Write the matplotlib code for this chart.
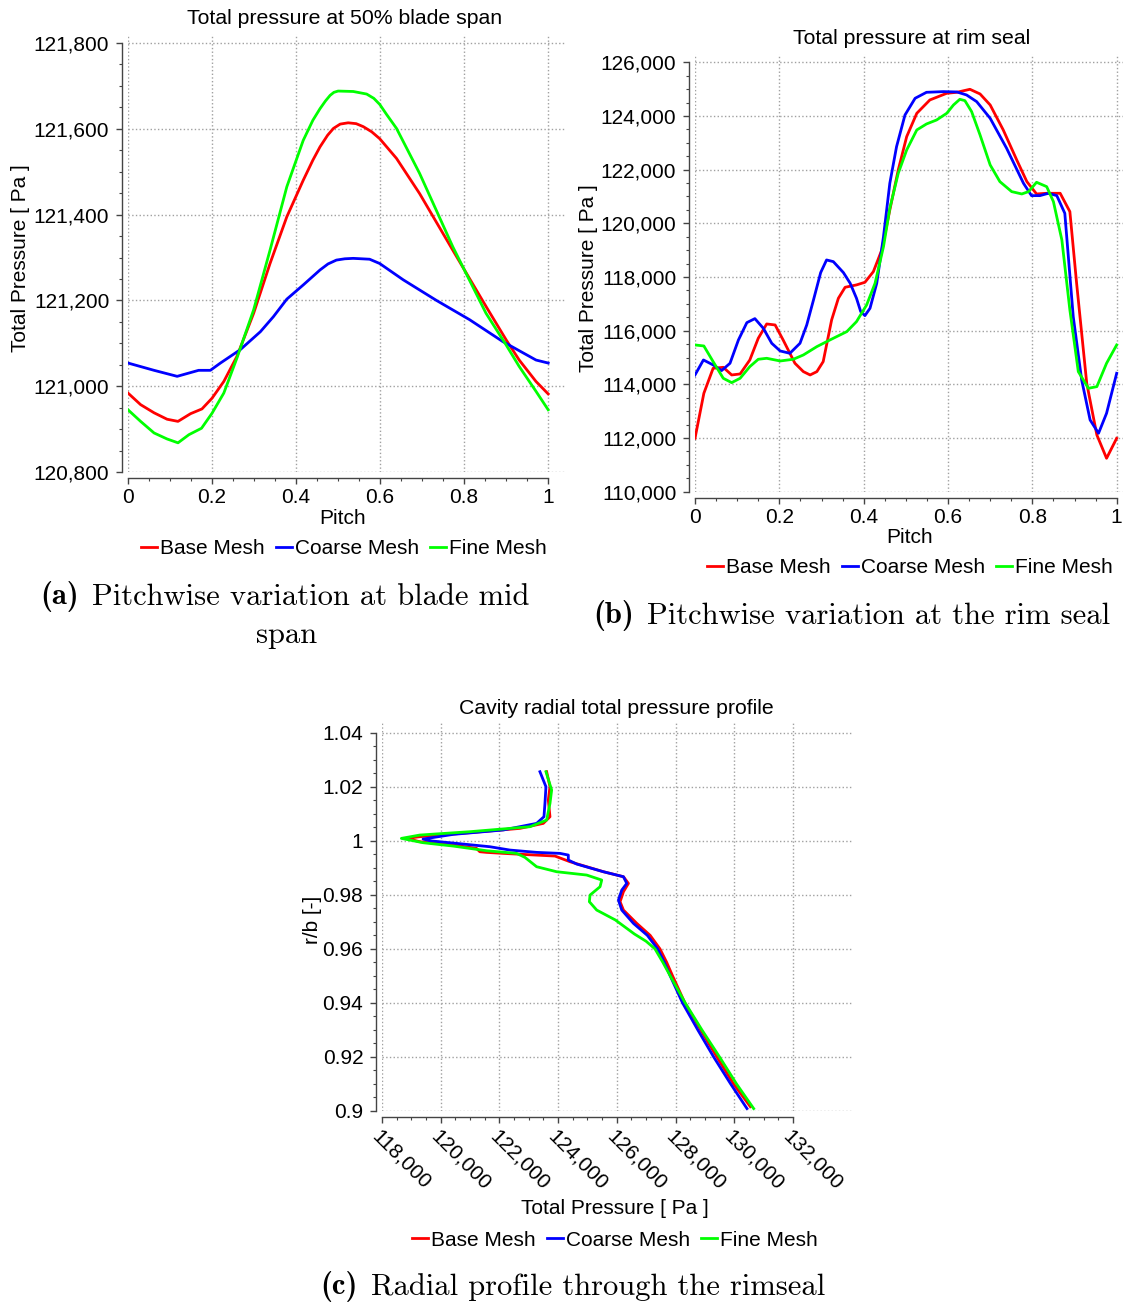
import matplotlib
matplotlib.use("Agg")
import matplotlib.pyplot as plt
import numpy as np
from matplotlib.lines import Line2D
from matplotlib.ticker import FuncFormatter

plt.rcParams['font.family'] = ['Liberation Sans', 'DejaVu Sans']

W, H = 1124, 1304
RED, BLUE, GREEN = '#ff0000', '#0000ff', '#00ff00'
names = ['Base Mesh', 'Coarse Mesh', 'Fine Mesh']

# (a) total pressure at 50% span
a_base_x = [0, 0.030, 0.062, 0.093, 0.119, 0.149, 0.176, 0.2, 0.228, 0.259, 0.299, 0.338, 0.378,
            0.417, 0.44, 0.457, 0.475, 0.489, 0.505, 0.524, 0.543, 0.560, 0.58, 0.599, 0.639, 0.694,
            0.773, 0.852, 0.9, 0.931, 0.971, 1.0]
a_base_y = [120984, 120957, 120938, 120923, 120918, 120936, 120947, 120972, 121011, 121069, 121170,
            121286, 121395, 121480, 121527, 121558, 121585, 121601, 121611, 121614, 121612, 121605,
            121593, 121577, 121531, 121449, 121317, 121186, 121108, 121061, 121011, 120982]
a_coarse_x = [0, 0.062, 0.117, 0.168, 0.196, 0.22, 0.267, 0.315, 0.346, 0.378, 0.417, 0.457, 0.476,
              0.496, 0.516, 0.536, 0.556, 0.575, 0.599, 0.655, 0.734, 0.813, 0.892, 0.971, 1.0]
a_coarse_y = [121054, 121037, 121023, 121037, 121037, 121054, 121085, 121127, 121162, 121203, 121236,
              121271, 121285, 121294, 121297, 121298, 121297, 121296, 121286, 121248, 121200, 121155,
              121104, 121061, 121054]
a_fine_x = [0, 0.030, 0.062, 0.093, 0.119, 0.145, 0.175, 0.2, 0.228, 0.259, 0.299, 0.338, 0.378,
            0.417, 0.44, 0.457, 0.47, 0.481, 0.49, 0.5, 0.536, 0.568, 0.585, 0.599, 0.615, 0.639,
            0.694, 0.773, 0.852, 0.9, 0.931, 0.971, 1.0]
a_fine_y = [120945, 120918, 120891, 120877, 120868, 120887, 120902, 120937, 120984, 121065, 121178,
            121317, 121465, 121573, 121620, 121647, 121665, 121678, 121685, 121688, 121687, 121681,
            121671, 121657, 121634, 121601, 121496, 121325, 121170, 121096, 121046, 120988, 120945]

# (b) total pressure at rim seal
b_base_x = [0, 0.021, 0.043, 0.067, 0.087, 0.107, 0.130, 0.150, 0.170, 0.190, 0.209, 0.237, 0.257,
            0.273, 0.289, 0.304, 0.324, 0.34, 0.356, 0.383, 0.403, 0.423, 0.443, 0.462, 0.482, 0.502,
            0.526, 0.557, 0.597, 0.621, 0.652, 0.676, 0.7, 0.731, 0.763, 0.787, 0.81, 0.834, 0.866,
            0.889, 0.905, 0.929, 0.953, 0.976, 1.0]
b_base_y = [111990, 113667, 114598, 114635, 114350, 114387, 114909, 115716, 116250, 116213, 115654,
            114785, 114474, 114350, 114474, 114847, 116399, 117207, 117617, 117705, 117803, 118200,
            119008, 120498, 121988, 123230, 124100, 124597, 124845, 124882, 124994, 124820, 124410,
            123479, 122361, 121554, 121094, 121119, 121119, 120436, 117766, 114040, 112115, 111245,
            111990]
b_coarse_x = [0, 0.020, 0.043, 0.063, 0.083, 0.103, 0.123, 0.142, 0.162, 0.182, 0.202, 0.225, 0.249,
              0.265, 0.281, 0.298, 0.312, 0.328, 0.352, 0.368, 0.383, 0.393, 0.403, 0.415, 0.431,
              0.447, 0.462, 0.478, 0.498, 0.522, 0.549, 0.589, 0.621, 0.644, 0.668, 0.7, 0.739,
              0.779, 0.798, 0.818, 0.838, 0.858, 0.877, 0.897, 0.917, 0.937, 0.957, 0.976, 1.0]
b_coarse_y = [114350, 114909, 114723, 114512, 114785, 115654, 116300, 116449, 116089, 115530, 115244,
              115157, 115530, 116213, 117145, 118163, 118635, 118573, 118163, 117766, 117207, 116710,
              116561, 116834, 117766, 119504, 121492, 122858, 124038, 124659, 124882, 124907, 124895,
              124783, 124534, 123913, 122796, 121492, 121032, 121032, 121119, 121032, 120374, 116523,
              114163, 112673, 112177, 112922, 114412]
b_fine_x = [0, 0.021, 0.043, 0.067, 0.087, 0.107, 0.130, 0.150, 0.170, 0.202, 0.233, 0.257, 0.289,
            0.320, 0.360, 0.383, 0.407, 0.427, 0.447, 0.462, 0.482, 0.502, 0.526, 0.549, 0.573, 0.597,
            0.613, 0.628, 0.64, 0.656, 0.676, 0.7, 0.723, 0.751, 0.775, 0.791, 0.81, 0.834, 0.85,
            0.87, 0.889, 0.909, 0.933, 0.953, 0.976, 1.0]
b_fine_y = [115468, 115430, 114847, 114226, 114064, 114226, 114660, 114934, 114971, 114871, 114934,
            115095, 115406, 115654, 115965, 116337, 116958, 117766, 119132, 120560, 121864, 122734,
            123479, 123702, 123851, 124100, 124410, 124621, 124572, 124162, 123292, 122175, 121554,
            121181, 121094, 121181, 121529, 121367, 120808, 119380, 116772, 114474, 113853, 113915,
            114785, 115468]

# (c) cavity radial profile
c_base_p = [123609, 123723, 123666, 123723, 123495, 122699, 120992, 119286, 118830, 119286, 120423,
            121220, 121333, 121561, 122130, 123893, 124405, 125543, 126226, 126396, 126226, 126112,
            126226, 126681, 127136, 127470, 127700, 127900, 128320, 128860, 129410, 129980, 130550]
c_base_r = [1.02556, 1.02, 1.01508, 1.00891, 1.00644, 1.00459, 1.0030, 1.00151, 1.00089, 0.99966,
            0.99842, 0.99719, 0.99595, 0.99571, 0.99534, 0.99435, 0.99225, 0.98855, 0.9867, 0.98423,
            0.98115, 0.97745, 0.97436, 0.96943, 0.965, 0.96, 0.955, 0.95, 0.94, 0.93, 0.92, 0.91,
            0.9016]
c_coarse_p = [123381, 123586, 123552, 123518, 123268, 122130, 120423, 119399, 119627, 120537, 121675,
              122357, 123268, 124064, 124348, 124348, 124633, 125543, 126226, 126339, 126169, 126055,
              126169, 126567, 127040, 127390, 127620, 127820, 128240, 128760, 129300, 129880, 130435]
c_coarse_r = [1.02556, 1.02, 1.01384, 1.00891, 1.00644, 1.0040, 1.00237, 1.00064, 1.0, 0.99904,
              0.99780, 0.99657, 0.99571, 0.99534, 0.99472, 0.99287, 0.99139, 0.98855, 0.9867, 0.98423,
              0.98176, 0.97806, 0.97436, 0.96943, 0.965, 0.96, 0.955, 0.95, 0.94, 0.93, 0.92, 0.91,
              0.9009]
c_fine_p = [123586, 123780, 123723, 123609, 123040, 120992, 119286, 118660, 119399, 120423, 121561,
            122585, 122870, 123268, 123950, 124974, 125486, 125429, 125088, 125065, 125315, 125950,
            126600, 127000, 127300, 127570, 127820, 128330, 128900, 129500, 130080, 130663]
c_fine_r = [1.02556, 1.01878, 1.01384, 1.00767, 1.00521, 1.00336, 1.00212, 1.00089, 0.99929, 0.99805,
            0.99632, 0.99534, 0.99386, 0.9904, 0.98855, 0.98732, 0.98547, 0.983, 0.97991, 0.97745,
            0.97436, 0.9707, 0.9655, 0.9628, 0.96, 0.955, 0.95, 0.94, 0.93, 0.92, 0.91, 0.9009]


def rect(x0, y0, x1, y1):
    return [x0 / W, 1 - y1 / H, (x1 - x0) / W, (y1 - y0) / H]


def fx(x, y):
    return x / W, 1 - y / H


comma = FuncFormatter(lambda v, p: f'{v:,.0f}')
short = FuncFormatter(lambda v, p: f'{round(v, 6):g}')


def ticks(lo, hi, step):
    n = int(round((hi - lo) / step))
    return lo + step * np.arange(n + 1)


def style(ax, xb, yb, xmaj, xmin, ymaj, ymin, xfmt, yfmt):
    for s in ['top', 'right']:
        ax.spines[s].set_visible(False)
    for s in ['left', 'bottom']:
        ax.spines[s].set_position(('outward', 4.5))
        ax.spines[s].set_color('#444444')
        ax.spines[s].set_linewidth(1.0)
    ax.spines['bottom'].set_bounds(*xb)
    ax.spines['left'].set_bounds(*yb)
    ax.set_xticks(ticks(*xb, xmaj))
    ax.set_xticks(ticks(*xb, xmin), minor=True)
    ax.set_yticks(ticks(*yb, ymaj))
    ax.set_yticks(ticks(*yb, ymin), minor=True)
    ax.xaxis.set_major_formatter(xfmt)
    ax.yaxis.set_major_formatter(yfmt)
    ax.tick_params(which='major', length=4, width=1.0, color='#444444', labelsize=15, pad=3)
    ax.tick_params(which='minor', length=2.5, width=0.8, color='#444444')
    ax.tick_params(axis='y', pad=5)
    ax.grid(True, which='major', linestyle=':', color='#a0a0a0', linewidth=1.0)
    ax.set_axisbelow(True)


def legend(xc, yc):
    hs = [Line2D([], [], color=c, lw=2) for c in (RED, BLUE, GREEN)]
    fig.legend(hs, names, loc='center', bbox_to_anchor=fx(xc, yc), ncol=3, frameon=False,
               fontsize=15, handlelength=0.75, handletextpad=0.15, columnspacing=0.55,
               borderaxespad=0, borderpad=0)


fig = plt.figure(figsize=(W / 100, H / 100), dpi=100)
lw = 2.0

# ---- (a)
ax = fig.add_axes(rect(128, 34, 565, 472))
ax.plot(a_base_x, a_base_y, color=RED, lw=lw)
ax.plot(a_coarse_x, a_coarse_y, color=BLUE, lw=lw)
ax.plot(a_fine_x, a_fine_y, color=GREEN, lw=lw)
ax.set_xlim(0, 1.04)
ax.set_ylim(120800, 121821)
style(ax, (0, 1), (120800, 121800), 0.2, 0.05, 200, 50, short, comma)
fig.text(*fx(345, 19), 'Total pressure at 50% blade span', fontsize=15.3, ha='center', va='center')
fig.text(*fx(343, 519), 'Pitch', fontsize=15, ha='center', va='center')
fig.text(*fx(21, 258), 'Total Pressure [ Pa ]', fontsize=15, ha='center', va='center', rotation=90)
legend(344, 549)

# ---- (b)
ax = fig.add_axes(rect(695, 54, 1123, 491.7))
ax.plot(b_base_x, b_base_y, color=RED, lw=lw)
ax.plot(b_coarse_x, b_coarse_y, color=BLUE, lw=lw)
ax.plot(b_fine_x, b_fine_y, color=GREEN, lw=lw)
ax.set_xlim(0, 1.015)
ax.set_ylim(110000, 126309)
style(ax, (0, 1), (110000, 126000), 0.2, 0.05, 2000, 500, short, comma)
fig.text(*fx(912, 39), 'Total pressure at rim seal', fontsize=15.3, ha='center', va='center')
fig.text(*fx(910, 538), 'Pitch', fontsize=15, ha='center', va='center')
fig.text(*fx(588, 278), 'Total Pressure [ Pa ]', fontsize=15, ha='center', va='center', rotation=90)
legend(910, 568)

# ---- (c)
ax = fig.add_axes(rect(382, 723.3, 852.7, 1111))
ax.plot(c_base_p, c_base_r, color=RED, lw=lw)
ax.plot(c_coarse_p, c_coarse_r, color=BLUE, lw=lw)
ax.plot(c_fine_p, c_fine_r, color=GREEN, lw=lw)
ax.set_xlim(118000, 134037)
ax.set_ylim(0.9, 1.04348)
style(ax, (118000, 132000), (0.9, 1.04), 2000, 500, 0.02, 0.005, comma, short)
for lab in ax.get_xticklabels():
    lab.set_rotation(-45)
    lab.set_ha('left')
    lab.set_va('top')
    lab.set_rotation_mode('anchor')
fig.text(*fx(616, 709), 'Cavity radial total pressure profile', fontsize=15.3, ha='center', va='center')
fig.text(*fx(615, 1209), 'Total Pressure [ Pa ]', fontsize=15, ha='center', va='center')
fig.text(*fx(312, 920), 'r/b [-]', fontsize=15, ha='center', va='center', rotation=90)
legend(615, 1240)

# ---- captions
cap = dict(fontsize=22, va='center', ha='left')
fig.text(*fx(40, 597), '(a)', family='cmb10', **cap)
fig.text(*fx(92, 597), 'Pitchwise variation at blade mid', family='cmr10', **cap)
fig.text(*fx(287, 635), 'span', family='cmr10', fontsize=22, va='center', ha='center')
fig.text(*fx(593, 616), '(b)', family='cmb10', **cap)
fig.text(*fx(647, 616), 'Pitchwise variation at the rim seal', family='cmr10', **cap)
fig.text(*fx(320, 1287), '(c)', family='cmb10', **cap)
fig.text(*fx(371, 1287), 'Radial profile through the rimseal', family='cmr10', **cap)

fig.savefig('out.png', dpi=100)
